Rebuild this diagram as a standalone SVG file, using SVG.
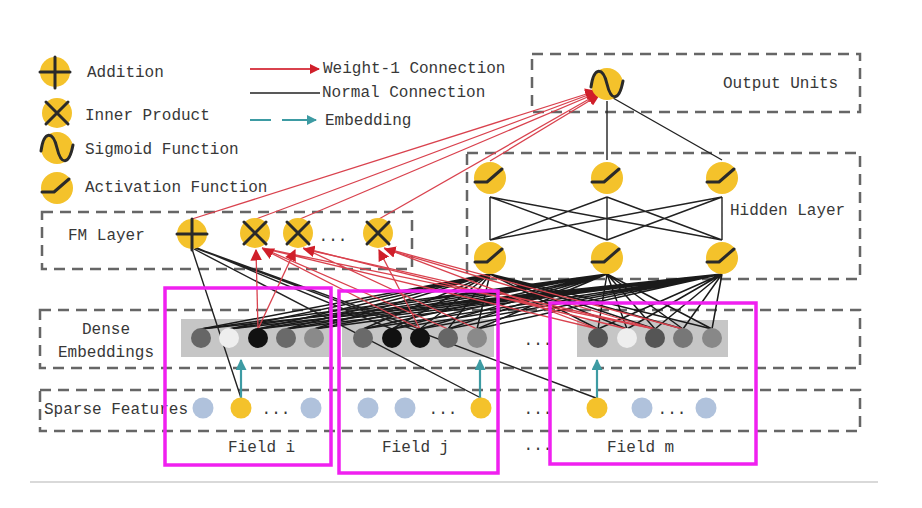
<svg xmlns="http://www.w3.org/2000/svg" xmlns:xlink="http://www.w3.org/1999/xlink" width="922" height="508" viewBox="0 0 922 508">
<style>
.t{font-family:"Liberation Mono","DejaVu Sans Mono",monospace;font-size:16px;fill:#383838}
.box{fill:none;stroke:#666;stroke-width:2.5;stroke-dasharray:11 7}
.y{fill:#f4c22b}
.ic{fill:none;stroke:#2a2a2a;stroke-width:3;stroke-linecap:round;stroke-linejoin:round}
.blk{fill:none;stroke:#1a1a1a;stroke-width:1.5}
.hid{fill:none;stroke:#222;stroke-width:1.4}
.red{fill:none;stroke:#d9424e;stroke-width:1.3}
.teal{fill:none;stroke:#3d9ba3;stroke-width:2.2}
.sp{fill:#b0c2dc}
.emb{fill:#c6c6c6}
.mag{fill:none;stroke:#f020f0;stroke-width:3.5}
</style>
<defs>
<marker id="ar" viewBox="0 0 10 10" refX="9" refY="5" markerWidth="5" markerHeight="5" orient="auto" markerUnits="strokeWidth"><path d="M0 0L10 5L0 10z" fill="#d01f2a"/></marker>
<marker id="arR" viewBox="0 0 10 10" refX="9" refY="5" markerWidth="9" markerHeight="9" orient="auto" markerUnits="strokeWidth"><path d="M0 0L10 5L0 10z" fill="#d01f2a"/></marker>
<marker id="at" viewBox="0 0 10 10" refX="9" refY="5" markerWidth="5" markerHeight="5" orient="auto" markerUnits="strokeWidth"><path d="M0 0L10 5L0 10z" fill="#3d9ba3"/></marker>
<g id="i-add"><circle r="15" class="y"/><path class="ic" d="M-15 0H15M0 -15V16"/></g>
<g id="i-mul"><circle r="15" class="y"/><path class="ic" d="M-11 -11L11 11M-11 11L11 -11"/></g>
<g id="i-sig"><circle r="16" class="y"/><path class="ic" d="M-16 3C-13 -18 -4 -17 0 0S12 18 16 -3"/></g>
<g id="i-act"><circle r="16" class="y"/><path class="ic" d="M-15 4H-3L12 -9"/></g>
</defs>
<rect width="922" height="508" fill="#fff"/>

<g id="legend">
<use href="#i-add" x="55" y="72"/><text class="t" x="87" y="77">Addition</text>
<use href="#i-mul" x="57" y="113"/><text class="t" x="85" y="120">Inner Product</text>
<use href="#i-sig" x="57" y="148"/><text class="t" x="85" y="154">Sigmoid Function</text>
<use href="#i-act" x="57" y="188"/><text class="t" x="85" y="192">Activation Function</text>
<line x1="250" y1="69" x2="319" y2="69" stroke="#d9424e" stroke-width="2" marker-end="url(#ar)"/>
<text class="t" x="323" y="73">Weight-1 Connection</text>
<line x1="250" y1="93" x2="320" y2="93" stroke="#222" stroke-width="1.6"/>
<text class="t" x="322" y="97">Normal Connection</text>
<line x1="250" y1="120" x2="271" y2="120" stroke="#3d9ba3" stroke-width="2"/>
<line x1="282" y1="120" x2="316" y2="120" stroke="#3d9ba3" stroke-width="2" marker-end="url(#at)"/>
<text class="t" x="325" y="125">Embedding</text>
</g>

<g id="boxes">
<rect class="box" x="532" y="54" width="328" height="58"/>
<text class="t" x="723" y="88">Output Units</text>
<rect class="box" x="467" y="153" width="393" height="126"/>
<text class="t" x="730" y="215">Hidden Layer</text>
<rect class="box" x="42" y="212" width="370" height="57"/>
<text class="t" x="68" y="240">FM Layer</text>
<rect class="box" x="40" y="310" width="820" height="58"/>
<text class="t" x="106" y="334" text-anchor="middle">Dense</text>
<text class="t" x="106" y="357" text-anchor="middle">Embeddings</text>
<rect class="box" x="40" y="390" width="820" height="41"/>
<text class="t" x="44" y="414">Sparse Features</text>
</g>

<g id="embedding-rows">
<rect class="emb" x="181" y="319" width="148" height="38"/>
<rect class="emb" x="342" y="319" width="152" height="38"/>
<rect class="emb" x="577" y="320" width="151" height="37"/>
</g>

<g id="connectors">
<path class="blk" d="M201 329L490 274M229 329L490 274M258 329L490 274M286 329L490 274M314 329L490 274M363 329L490 274M392 329L490 274M420 329L490 274M448 329L490 274M477 329L490 274M598 329L490 274M627 329L490 274M655 329L490 274M683 329L490 274M712 329L490 274"/>
<path class="blk" d="M201 329L607 274M229 329L607 274M258 329L607 274M286 329L607 274M314 329L607 274M363 329L607 274M392 329L607 274M420 329L607 274M448 329L607 274M477 329L607 274M598 329L607 274M627 329L607 274M655 329L607 274M683 329L607 274M712 329L607 274"/>
<path class="blk" d="M201 329L722 274M229 329L722 274M258 329L722 274M286 329L722 274M314 329L722 274M363 329L722 274M392 329L722 274M420 329L722 274M448 329L722 274M477 329L722 274M598 329L722 274M627 329L722 274M655 329L722 274M683 329L722 274M712 329L722 274"/>
<path class="hid" d="M490 197V240M490 197L607 240M490 197L722 240M607 197L490 240M607 197V240M607 197L722 240M722 197L490 240M722 197L607 240M722 197V240"/>
<path class="hid" d="M607 101V160M613 98L722 160"/>
<path class="hid" d="M192 249L241 398M194 249L481 398M195 248L596 398M196 248L420 329M197 248L392 329"/>
<path class="red" d="M262 248L598 329M303 248L627 329M384 248L683 329M262 248L448 329M303 248L477 329M262 248L655 329M384 248L598 329"/>
<line class="red" x1="258" y1="329" x2="256" y2="250" marker-end="url(#arR)"/>
<line class="red" x1="258" y1="329" x2="295" y2="250" marker-end="url(#arR)"/>
<line class="red" x1="420" y1="329" x2="263" y2="249" marker-end="url(#arR)"/>
<line class="red" x1="655" y1="329" x2="304" y2="249" marker-end="url(#arR)"/>
<line class="red" x1="420" y1="329" x2="379" y2="250" marker-end="url(#arR)"/>
<line class="red" x1="655" y1="329" x2="385" y2="249" marker-end="url(#arR)"/>
<line class="red" x1="192" y1="219" x2="596" y2="91" marker-end="url(#arR)"/>
<line class="red" x1="256" y1="219" x2="596" y2="92" marker-end="url(#arR)"/>
<line class="red" x1="300" y1="219" x2="597" y2="93" marker-end="url(#arR)"/>
<line class="red" x1="379" y1="219" x2="598" y2="94" marker-end="url(#arR)"/>
<line class="red" x1="490" y1="161" x2="599" y2="95" marker-end="url(#arR)"/>
<line class="teal" x1="241" y1="398" x2="241" y2="360" marker-end="url(#at)"/>
<line class="teal" x1="480" y1="398" x2="480" y2="360" marker-end="url(#at)"/>
<line class="teal" x1="597" y1="398" x2="597" y2="360" marker-end="url(#at)"/>
</g>

<g id="output"><use href="#i-sig" x="607" y="84"/></g>
<g id="h1"><use href="#i-act" x="490" y="178"/></g>
<g id="h2"><use href="#i-act" x="607" y="178"/></g>
<g id="h3"><use href="#i-act" x="722" y="178"/></g>
<g id="h4"><use href="#i-act" x="490" y="258"/></g>
<g id="h5"><use href="#i-act" x="607" y="258"/></g>
<g id="h6"><use href="#i-act" x="722" y="258"/></g>
<g id="fm-add"><use href="#i-add" x="192" y="234"/></g>
<g id="fm-mul1"><use href="#i-mul" x="255" y="233"/></g>
<g id="fm-mul2"><use href="#i-mul" x="298" y="233"/></g>
<g id="fm-dots"><text class="t" x="333" y="241" text-anchor="middle">...</text></g>
<g id="fm-mul3"><use href="#i-mul" x="378" y="233"/></g>

<g id="dense-i">
<circle cx="201" cy="338" r="10" fill="#666"/><circle cx="229" cy="338" r="10" fill="#eee"/><circle cx="258" cy="338" r="10" fill="#111"/><circle cx="286" cy="338" r="10" fill="#6a6a6a"/><circle cx="314" cy="338" r="10" fill="#8a8a8a"/>
</g>
<g id="dense-j">
<circle cx="363" cy="338" r="10" fill="#6a6a6a"/><circle cx="392" cy="338" r="10" fill="#111"/><circle cx="420" cy="338" r="10" fill="#111"/><circle cx="448" cy="338" r="10" fill="#666"/><circle cx="477" cy="338" r="10" fill="#8a8a8a"/>
</g>
<g id="dense-m">
<circle cx="598" cy="338" r="10" fill="#555"/><circle cx="627" cy="338" r="10" fill="#eee"/><circle cx="655" cy="338" r="10" fill="#555"/><circle cx="683" cy="338" r="10" fill="#777"/><circle cx="712" cy="338" r="10" fill="#888"/>
</g>
<text class="t" x="538" y="345" text-anchor="middle">...</text>

<g id="sparse-i">
<circle class="sp" cx="203" cy="408" r="10.5"/><circle class="y" cx="241" cy="408" r="10.5"/><text class="t" x="276" y="414" text-anchor="middle">...</text><circle class="sp" cx="311" cy="408" r="10.5"/>
</g>
<g id="sparse-j">
<circle class="sp" cx="368" cy="408" r="10.5"/><circle class="sp" cx="405" cy="408" r="10.5"/><text class="t" x="443" y="414" text-anchor="middle">...</text><circle class="y" cx="481" cy="408" r="10.5"/>
</g>
<text class="t" x="538" y="414" text-anchor="middle">...</text>
<g id="sparse-m">
<circle class="y" cx="597" cy="408" r="10.5"/><circle class="sp" cx="642" cy="408" r="10.5"/><text class="t" x="672" y="414" text-anchor="middle">...</text><circle class="sp" cx="706" cy="408" r="10.5"/>
</g>

<g id="field-labels">
<text class="t" x="228" y="452">Field i</text>
<text class="t" x="382" y="452">Field j</text>
<text class="t" x="538" y="450" text-anchor="middle">...</text>
<text class="t" x="607" y="452">Field m</text>
</g>

<g id="highlights">
<rect class="mag" x="165" y="288" width="166" height="177"/>
<rect class="mag" x="339" y="291" width="159" height="182"/>
<rect class="mag" x="550" y="303" width="206" height="161"/>
</g>
<line x1="30" y1="482" x2="878" y2="482" stroke="#ccc" stroke-width="1.5"/>
</svg>
